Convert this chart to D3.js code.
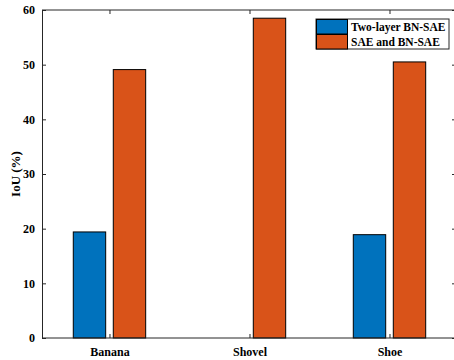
<!DOCTYPE html>
<html><head><meta charset="utf-8">
<script src="https://cdn.jsdelivr.net/npm/d3@7"></script>
<style>body{margin:0;background:#fff}svg{display:block}</style>
</head><body>
<script>
const categories = ["Banana", "Shovel", "Shoe"];
const seriesNames = ["Two-layer BN-SAE", "SAE and BN-SAE"];
const twoLayer = [19.4, 0, 18.9];
const saeBn = [49.1, 58.5, 50.5];
const yTicks = [0, 10, 20, 30, 40, 50, 60];
const colors = ["#0072BD", "#D95319"];

const W = 454, H = 360;
const svg = d3.select("body").append("svg").attr("width", W).attr("height", H);
const L = 42, R = 456, T = 10, B = 338;
const x = d3.scaleLinear().domain([0.518, 3.5]).range([L, 459.5]);
const y = d3.scaleLinear().domain([0, 60]).range([B, T]);
const font = "'Liberation Serif','Times New Roman',serif";
const axisCol = "#262626";

// bars
const barW = 32.4, off = 20;
const series = [twoLayer, saeBn];
series.forEach((vals, s) => {
  svg.append("g").selectAll("rect").data(vals).enter().append("rect")
    .attr("x", (d, i) => x(i + 1) + (s === 0 ? -off - barW / 2 : off - barW / 2))
    .attr("y", d => y(d))
    .attr("width", barW)
    .attr("height", d => B - y(d))
    .attr("fill", colors[s])
    .attr("stroke", "#000").attr("stroke-width", 1);
});

// left axis
const gl = svg.append("g").attr("transform", `translate(${L},0)`)
  .call(d3.axisLeft(y).tickValues(yTicks).tickSize(-4).tickPadding(7));
gl.select(".domain").attr("stroke", axisCol);
gl.selectAll(".tick line").attr("stroke", axisCol);
gl.selectAll("text").attr("font-family", font).attr("font-weight", "bold").attr("font-size", 12).attr("fill", "#000");

// right axis
const gr = svg.append("g").attr("transform", `translate(${R},0)`)
  .call(d3.axisRight(y).tickValues(yTicks).tickSize(-4).tickFormat(""));
gr.select(".domain").attr("stroke", axisCol);
gr.selectAll(".tick line").attr("stroke", axisCol);

// bottom axis
const gb = svg.append("g").attr("transform", `translate(0,${B})`)
  .call(d3.axisBottom(x).tickValues([1, 2, 3]).tickSize(-4).tickPadding(9)
    .tickFormat((d) => categories[d - 1]));
gb.select(".domain").attr("stroke", axisCol).attr("d", `M${L},0H${R}`);
gb.selectAll(".tick line").attr("stroke", axisCol);
gb.selectAll("text").attr("font-family", font).attr("font-weight", "bold").attr("font-size", 12).attr("fill", "#000");

// top axis
const gt = svg.append("g").attr("transform", `translate(0,${T})`)
  .call(d3.axisTop(x).tickValues([1, 2, 3]).tickSize(-4).tickFormat(""));
gt.select(".domain").attr("stroke", axisCol).attr("d", `M${L},0H${R}`);
gt.selectAll(".tick line").attr("stroke", axisCol);

// y label
svg.append("text")
  .attr("transform", `translate(20,${(T + B) / 2}) rotate(-90)`)
  .attr("text-anchor", "middle")
  .attr("font-family", font).attr("font-weight", "bold").attr("font-size", 13)
  .text("IoU (%)");

// legend
const lg = svg.append("g").attr("transform", "translate(316,19)");
lg.append("rect").attr("width", 133).attr("height", 30)
  .attr("fill", "#fff").attr("stroke", axisCol).attr("stroke-width", 1);
seriesNames.forEach((n, i) => {
  lg.append("rect").attr("x", 0.5).attr("y", i * 15 + 0.5).attr("width", 31).attr("height", 14.5)
    .attr("fill", colors[i]).attr("stroke", "#000").attr("stroke-width", 1);
  lg.append("text").attr("x", 35).attr("y", i * 15 + 11.5)
    .attr("font-family", font).attr("font-weight", "bold").attr("font-size", 11.5)
    .text(n);
});
</script>
</body></html>
